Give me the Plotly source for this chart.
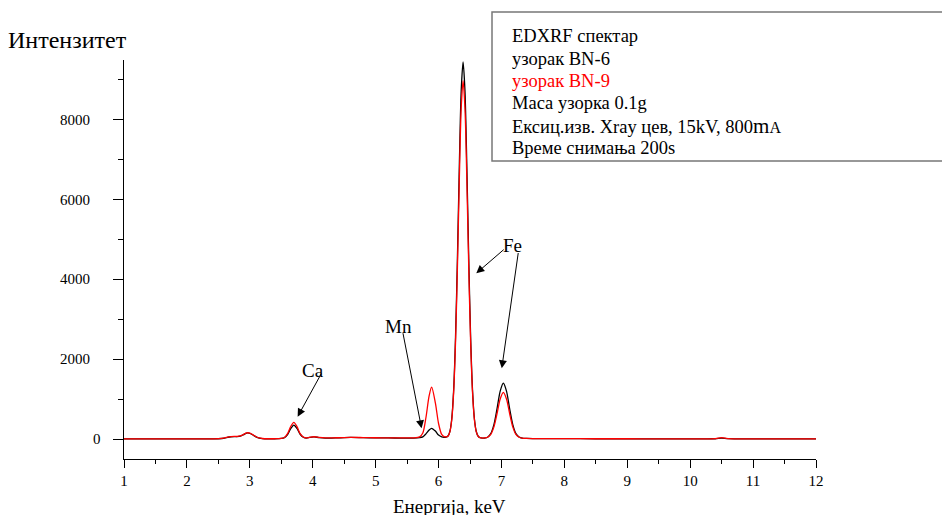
import plotly.graph_objects as go

# ---- data ----
energy_kev = [1.0, 1.5, 2.0, 2.4, 2.5, 2.6, 2.65, 2.7, 2.75, 2.8, 2.85, 2.9, 2.95, 3.0, 3.05, 3.1, 3.15, 3.2, 3.3, 3.4,
              3.5, 3.55, 3.6, 3.65, 3.7, 3.75, 3.8, 3.85, 3.9, 3.95, 4.02, 4.1, 4.2, 4.3, 4.4, 4.6, 4.8, 5.0, 5.2, 5.4,
              5.6, 5.7, 5.75, 5.8, 5.85, 5.89, 5.95, 6.0, 6.05, 6.09, 6.12, 6.15, 6.18, 6.21, 6.24, 6.27, 6.30, 6.33,
              6.36, 6.39, 6.42, 6.45, 6.48, 6.51, 6.54, 6.57, 6.60, 6.63, 6.66, 6.70, 6.73, 6.78, 6.83, 6.88, 6.93,
              6.98, 7.03, 7.08, 7.13, 7.18, 7.23, 7.28, 7.33, 7.4, 7.5, 8.0, 8.5, 9.0, 9.5, 10.0, 10.4, 10.5, 10.6,
              11.0, 11.5, 12.0]

bn6_counts = [2, 2, 3, 5, 8, 25, 45, 58, 62, 62, 75, 110, 150, 145, 100, 55, 25, 12, 6, 6,
              15, 35, 110, 260, 350, 265, 120, 45, 25, 40, 55, 38, 25, 25, 30, 40, 35, 30, 28, 25,
              25, 35, 55, 130, 225, 270, 200, 100, 55, 45, 50, 75, 190, 510, 1230, 2560, 4530, 6820,
              8720, 9450, 8720, 6820, 4530, 2560, 1230, 510, 190, 70, 35, 25, 25, 45, 135, 360, 760,
              1200, 1400, 1200, 760, 360, 135, 50, 22, 15, 12, 10, 8, 6, 5, 5, 8, 25, 10,
              4, 3, 2]

bn9_counts = [2, 3, 4, 6, 10, 28, 48, 60, 65, 65, 78, 115, 155, 150, 105, 58, 28, 14, 8, 8,
              16, 40, 135, 315, 420, 310, 135, 50, 28, 42, 58, 40, 28, 28, 32, 42, 38, 33, 30, 28,
              30, 55, 150, 540, 1080, 1300, 900, 390, 115, 60, 55, 72, 180, 485, 1170, 2430, 4300, 6490,
              8290, 8980, 8290, 6490, 4300, 2430, 1170, 485, 180, 67, 33, 25, 28, 45, 118, 305, 640,
              1005, 1170, 1005, 640, 305, 118, 45, 22, 15, 12, 10, 8, 7, 6, 6, 10, 35, 12,
              6, 5, 4]

x_ticks = [1, 2, 3, 4, 5, 6, 7, 8, 9, 10, 11, 12]
y_ticks = [0, 2000, 4000, 6000, 8000]
y_tick_labels = ["0", "2000", "4000", "6000", "8000"]

# element labels: (label, label_x, label_y, [(tip_x, tip_y, tail_x, tail_y), ...])
element_labels = [
    ("Ca", 4.00, 1730, [(3.76, 560, 4.15, 1680)]),
    ("Mn", 5.37, 2830, [(5.73, 270, 5.43, 2690)]),
    ("Fe", 7.17, 4840, [(6.60, 4155, 7.06, 4780), (7.005, 1775, 7.27, 4700)]),
]

legend_lines = [
    ("EDXRF спектар", "black"),
    ("узорак BN-6", "black"),
    ("узорак BN-9", "red"),
    ("Маса узорка 0.1g", "black"),
    ("Ексиц.изв. Xray цев, 15kV, 800<span style='font-size:21px'>m</span><span style='font-size:16px'>A</span>", "black"),
    ("Време снимања 200s", "black"),
]

SERIF = "Liberation Serif"

fig = go.Figure()
fig.add_trace(go.Scatter(x=energy_kev, y=bn6_counts, mode="lines", name="BN-6",
                         line=dict(color="black", width=1.3, shape="spline", smoothing=0.8)))
fig.add_trace(go.Scatter(x=energy_kev, y=bn9_counts, mode="lines", name="BN-9",
                         line=dict(color="#ff0000", width=1.3, shape="spline", smoothing=0.8)))

annotations = []
for label, lx, ly, arrows in element_labels:
    annotations.append(dict(x=lx, y=ly, xref="x", yref="y", text=label, showarrow=False,
                            font=dict(family=SERIF, size=19, color="black")))
    for tx, ty, ax, ay in arrows:
        annotations.append(dict(x=tx, y=ty, xref="x", yref="y", ax=ax, ay=ay, axref="x", ayref="y",
                                text="", showarrow=True, arrowhead=2, arrowsize=1.6, arrowwidth=1,
                                arrowcolor="black", standoff=0, startstandoff=0))

for i, (txt, col) in enumerate(legend_lines):
    y = 1.090 - 0.05627 * i + (0.006 if i == 4 else 0.0)
    annotations.append(dict(x=0.5578, y=y, xref="paper", yref="paper",
                            xanchor="left", yanchor="top", align="left", text=txt, showarrow=False,
                            font=dict(family=SERIF, size=18.5, color=col)))

# y tick labels placed away from the axis as in the reference ("0" sits closer)
for v, t in zip(y_ticks, y_tick_labels):
    lab_x = -0.0303 if t == "0" else -0.046
    annotations.append(dict(x=lab_x, y=v, xref="paper", yref="y", xanchor="right", yanchor="middle",
                            text=t, showarrow=False, font=dict(family=SERIF, size=15, color="black")))

annotations.append(dict(x=-0.082, y=1.05, xref="paper", yref="paper", xanchor="center", yanchor="middle",
                        text="Интензитет", showarrow=False, font=dict(family=SERIF, size=24, color="black")))
annotations.append(dict(x=0.4697, y=-0.118, xref="paper", yref="paper", xanchor="center", yanchor="middle",
                        text="Енергија, keV", showarrow=False, font=dict(family=SERIF, size=19, color="black")))

# the page adds an 8px body margin, so the figure is shifted back by 8px here
fig.update_layout(
    width=950, height=515,
    margin=dict(l=116, r=142, t=52, b=64),
    paper_bgcolor="white", plot_bgcolor="white",
    showlegend=False,
    annotations=annotations,
    shapes=[dict(type="rect", xref="paper", yref="paper", x0=0.5318, x1=1.3, y0=0.7469, y1=1.1203,
                 line=dict(color="#777777", width=1.5), fillcolor="rgba(0,0,0,0)", layer="above")],
)
fig.update_xaxes(range=[1, 12], tickvals=x_ticks, ticks="outside", ticklen=8, tickwidth=1, tickcolor="black",
                 showline=True, linecolor="black", linewidth=1, showgrid=False, zeroline=False,
                 tickfont=dict(family=SERIF, size=15, color="black"),
                 minor=dict(dtick=0.5, ticks="outside", ticklen=4, tickcolor="black", tickwidth=1, showgrid=False))
fig.update_yaxes(range=[-500, 9500], tickvals=y_ticks, ticks="outside", ticklen=10, tickwidth=1, tickcolor="black",
                 showline=True, linecolor="black", linewidth=1, showgrid=False, zeroline=False,
                 showticklabels=False,
                 minor=dict(dtick=1000, tick0=0, ticks="outside", ticklen=5, tickcolor="black", tickwidth=1, showgrid=False))

fig.write_html("out.html")
